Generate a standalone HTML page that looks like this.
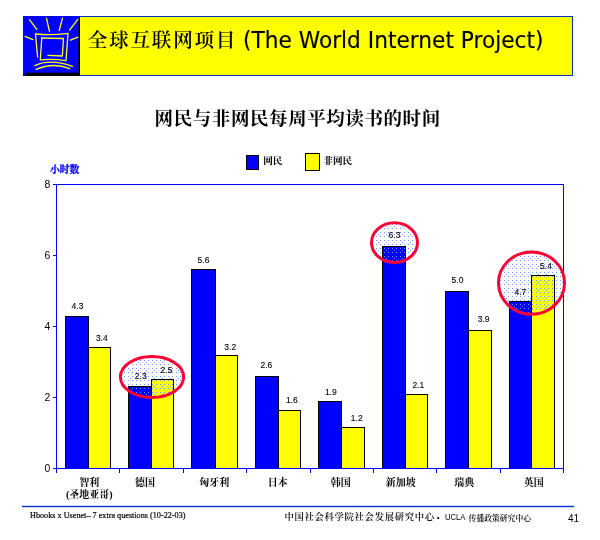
<!DOCTYPE html>
<html lang="zh-CN">
<head>
<meta charset="utf-8">
<title>全球互联网项目 (The World Internet Project)</title>
<style>
html,body{margin:0;padding:0;background:#fff;}
body{width:600px;height:540px;position:relative;overflow:hidden;}
</style>
</head>
<body>
<svg width="600" height="540" viewBox="0 0 600 540" style="position:absolute;left:0;top:0">
<defs><pattern id="dots" x="0" y="0" width="8" height="8" patternUnits="userSpaceOnUse" shape-rendering="crispEdges"><g fill="#6699ff"><rect x="0" y="0" width="1" height="1"/><rect x="4" y="0" width="1" height="1"/><rect x="0" y="4" width="1" height="1"/><rect x="4" y="4" width="1" height="1"/><rect x="2" y="2" width="1" height="1"/></g></pattern></defs>
<rect x="23.5" y="16.5" width="549" height="59" fill="#ffff00" stroke="#0033cc" stroke-width="1"/>
<rect x="23" y="16" width="57" height="60" fill="#0000ff"/>
<rect x="25" y="73" width="55" height="3" fill="#000"/>
<rect x="25" y="72.4" width="55" height="0.6" fill="#000" opacity="0.5"/>
<rect x="78.4" y="18" width="1.6" height="58" fill="#000"/>
<g fill="none" stroke="#ffff14" stroke-width="1.3" stroke-linecap="round" stroke-linejoin="round"><path d="M35.5 34 Q52 35.6 68 33.3 L66 60.6 Q52 58.6 40.3 59.8 L41.8 37.6"/><path d="M35.5 34 L37.6 57"/><path d="M41.8 38 L63.5 38.5 L62.3 56 L48 55.3"/><path d="M34.9 65.7 Q49.8 58.4 72.4 66.4"/><path d="M36.1 69.4 Q53 62 69.9 68.6"/><path d="M29.4 19.7 L36.8 29.4"/><path d="M46.5 18.4 L49.5 31.4"/><path d="M62.5 18.2 L59.2 30.5"/><path d="M77.9 19.3 L69.5 30.1"/><path d="M25.1 36.3 L32.9 39.6"/><path d="M77.9 37.2 L70.5 40.2"/></g>
<g stroke="#0000ff" stroke-width="1" fill="none" shape-rendering="crispEdges">
<path d="M56.5 468.5 L56.5 184.5 L563.5 184.5 L563.5 468.5 Z"/>
<path d="M52.5 468.5 L56.5 468.5"/>
<path d="M52.5 397.5 L56.5 397.5"/>
<path d="M52.5 326.5 L56.5 326.5"/>
<path d="M52.5 255.5 L56.5 255.5"/>
<path d="M52.5 184.5 L56.5 184.5"/>
<path d="M56.5 468.5 L56.5 472.5"/>
<path d="M119.5 468.5 L119.5 472.5"/>
<path d="M183.5 468.5 L183.5 472.5"/>
<path d="M246.5 468.5 L246.5 472.5"/>
<path d="M310.5 468.5 L310.5 472.5"/>
<path d="M373.5 468.5 L373.5 472.5"/>
<path d="M436.5 468.5 L436.5 472.5"/>
<path d="M500.5 468.5 L500.5 472.5"/>
<path d="M563.5 468.5 L563.5 472.5"/>
</g>
<rect x="65" y="316" width="24" height="152" fill="#0000ff"/>
<rect x="88" y="347" width="23" height="121" fill="#ffff00"/>
<rect x="128" y="386" width="24" height="82" fill="#0000ff"/>
<rect x="151" y="379" width="23" height="89" fill="#ffff00"/>
<rect x="191" y="269" width="25" height="199" fill="#0000ff"/>
<rect x="215" y="355" width="23" height="113" fill="#ffff00"/>
<rect x="255" y="376" width="24" height="92" fill="#0000ff"/>
<rect x="278" y="410" width="23" height="58" fill="#ffff00"/>
<rect x="318" y="401" width="24" height="67" fill="#0000ff"/>
<rect x="341" y="427" width="24" height="41" fill="#ffff00"/>
<rect x="382" y="246" width="24" height="222" fill="#0000ff"/>
<rect x="405" y="394" width="23" height="74" fill="#ffff00"/>
<rect x="445" y="291" width="24" height="177" fill="#0000ff"/>
<rect x="468" y="330" width="24" height="138" fill="#ffff00"/>
<rect x="509" y="301" width="23" height="167" fill="#0000ff"/>
<rect x="531" y="275" width="24" height="193" fill="#ffff00"/>
<ellipse cx="152" cy="377" rx="31.6" ry="20.5" fill="url(#dots)"/>
<ellipse cx="394.5" cy="242.6" rx="23" ry="19.9" fill="url(#dots)"/>
<ellipse cx="531.5" cy="283.05" rx="33" ry="31.15" fill="url(#dots)"/>
<g fill="#000" shape-rendering="crispEdges">
<rect x="65" y="316" width="1" height="152"/>
<rect x="88" y="316" width="1" height="152"/>
<rect x="110" y="347" width="1" height="121"/>
<rect x="65" y="316" width="24" height="1"/>
<rect x="88" y="347" width="23" height="1"/>
<rect x="128" y="386" width="1" height="82"/>
<rect x="151" y="379" width="1" height="89"/>
<rect x="173" y="379" width="1" height="89"/>
<rect x="128" y="386" width="24" height="1"/>
<rect x="151" y="379" width="23" height="1"/>
<rect x="191" y="269" width="1" height="199"/>
<rect x="215" y="269" width="1" height="199"/>
<rect x="237" y="355" width="1" height="113"/>
<rect x="191" y="269" width="25" height="1"/>
<rect x="215" y="355" width="23" height="1"/>
<rect x="255" y="376" width="1" height="92"/>
<rect x="278" y="376" width="1" height="92"/>
<rect x="300" y="410" width="1" height="58"/>
<rect x="255" y="376" width="24" height="1"/>
<rect x="278" y="410" width="23" height="1"/>
<rect x="318" y="401" width="1" height="67"/>
<rect x="341" y="401" width="1" height="67"/>
<rect x="364" y="427" width="1" height="41"/>
<rect x="318" y="401" width="24" height="1"/>
<rect x="341" y="427" width="24" height="1"/>
<rect x="382" y="246" width="1" height="222"/>
<rect x="405" y="246" width="1" height="222"/>
<rect x="427" y="394" width="1" height="74"/>
<rect x="382" y="246" width="24" height="1"/>
<rect x="405" y="394" width="23" height="1"/>
<rect x="445" y="291" width="1" height="177"/>
<rect x="468" y="291" width="1" height="177"/>
<rect x="491" y="330" width="1" height="138"/>
<rect x="445" y="291" width="24" height="1"/>
<rect x="468" y="330" width="24" height="1"/>
<rect x="509" y="301" width="1" height="167"/>
<rect x="531" y="275" width="1" height="193"/>
<rect x="554" y="275" width="1" height="193"/>
<rect x="509" y="301" width="23" height="1"/>
<rect x="531" y="275" width="24" height="1"/>
</g>
<ellipse cx="152" cy="377" rx="31.6" ry="20.5" fill="none" stroke="#ff0033" stroke-width="3"/>
<ellipse cx="394.5" cy="242.6" rx="23" ry="19.9" fill="none" stroke="#ff0033" stroke-width="3"/>
<ellipse cx="531.5" cy="283.05" rx="33" ry="31.15" fill="none" stroke="#ff0033" stroke-width="3"/>
<g stroke="#000" stroke-width="1" shape-rendering="crispEdges">
<rect x="246.5" y="155.5" width="12" height="14" fill="#0000ff"/>
<rect x="305.5" y="153.5" width="14" height="17" fill="#ffff00"/>
</g>
<rect x="22" y="505.8" width="552" height="1.4" fill="#0033cc"/>
<g font-family="'Liberation Sans','Noto Sans CJK SC',sans-serif" fill="#000">
<text x="50.4" y="472.1" font-size="10" text-anchor="end" textLength="5.8" lengthAdjust="spacingAndGlyphs">0</text>
<text x="50.4" y="401.1" font-size="10" text-anchor="end" textLength="5.8" lengthAdjust="spacingAndGlyphs">2</text>
<text x="50.4" y="330.1" font-size="10" text-anchor="end" textLength="5.8" lengthAdjust="spacingAndGlyphs">4</text>
<text x="50.4" y="259.1" font-size="10" text-anchor="end" textLength="5.8" lengthAdjust="spacingAndGlyphs">6</text>
<text x="50.4" y="188.1" font-size="10" text-anchor="end" textLength="5.8" lengthAdjust="spacingAndGlyphs">8</text>
<text x="77.5" y="308.9" font-size="9.7" text-anchor="middle" textLength="11.8" lengthAdjust="spacingAndGlyphs" stroke="#000" stroke-width="0.12">4.3</text>
<text x="101.8" y="340.5" font-size="9.7" text-anchor="middle" textLength="11.8" lengthAdjust="spacingAndGlyphs" stroke="#000" stroke-width="0.12">3.4</text>
<text x="140.7" y="379.4" font-size="9.7" text-anchor="middle" textLength="11.8" lengthAdjust="spacingAndGlyphs" stroke="#000" stroke-width="0.12">2.3</text>
<text x="166.5" y="373.3" font-size="9.7" text-anchor="middle" textLength="11.8" lengthAdjust="spacingAndGlyphs" stroke="#000" stroke-width="0.12">2.5</text>
<text x="203.5" y="262.7" font-size="9.7" text-anchor="middle" textLength="11.8" lengthAdjust="spacingAndGlyphs" stroke="#000" stroke-width="0.12">5.6</text>
<text x="230.2" y="349.7" font-size="9.7" text-anchor="middle" textLength="11.8" lengthAdjust="spacingAndGlyphs" stroke="#000" stroke-width="0.12">3.2</text>
<text x="266.4" y="368.4" font-size="9.7" text-anchor="middle" textLength="11.8" lengthAdjust="spacingAndGlyphs" stroke="#000" stroke-width="0.12">2.6</text>
<text x="291.8" y="403.4" font-size="9.7" text-anchor="middle" textLength="11.8" lengthAdjust="spacingAndGlyphs" stroke="#000" stroke-width="0.12">1.6</text>
<text x="330.8" y="394.5" font-size="9.7" text-anchor="middle" textLength="11.8" lengthAdjust="spacingAndGlyphs" stroke="#000" stroke-width="0.12">1.9</text>
<text x="356.7" y="421.3" font-size="9.7" text-anchor="middle" textLength="11.8" lengthAdjust="spacingAndGlyphs" stroke="#000" stroke-width="0.12">1.2</text>
<text x="394.5" y="238.4" font-size="9.7" text-anchor="middle" textLength="11.8" lengthAdjust="spacingAndGlyphs" stroke="#000" stroke-width="0.12">6.3</text>
<text x="418.3" y="387.7" font-size="9.7" text-anchor="middle" textLength="11.8" lengthAdjust="spacingAndGlyphs" stroke="#000" stroke-width="0.12">2.1</text>
<text x="457.5" y="283.4" font-size="9.7" text-anchor="middle" textLength="11.8" lengthAdjust="spacingAndGlyphs" stroke="#000" stroke-width="0.12">5.0</text>
<text x="483.6" y="322.4" font-size="9.7" text-anchor="middle" textLength="11.8" lengthAdjust="spacingAndGlyphs" stroke="#000" stroke-width="0.12">3.9</text>
<text x="520.4" y="294.7" font-size="9.7" text-anchor="middle" textLength="11.8" lengthAdjust="spacingAndGlyphs" stroke="#000" stroke-width="0.12">4.7</text>
<text x="546" y="269.3" font-size="9.7" text-anchor="middle" textLength="11.8" lengthAdjust="spacingAndGlyphs" stroke="#000" stroke-width="0.12">5.4</text>
</g>
<g font-family="'Liberation Serif','Noto Serif CJK SC',serif" fill="#000">
<text x="89.2" y="486.3" font-size="10" font-weight="bold" text-anchor="middle">智利</text>
<text x="145" y="486.3" font-size="10" font-weight="bold" text-anchor="middle">德国</text>
<text x="214.3" y="486.3" font-size="10" font-weight="bold" text-anchor="middle">匈牙利</text>
<text x="277.8" y="486.3" font-size="10" font-weight="bold" text-anchor="middle">日本</text>
<text x="340.8" y="486.3" font-size="10" font-weight="bold" text-anchor="middle">韩国</text>
<text x="400.8" y="486.3" font-size="10" font-weight="bold" text-anchor="middle">新加坡</text>
<text x="464.2" y="486.3" font-size="10" font-weight="bold" text-anchor="middle">瑞典</text>
<text x="533.7" y="486.3" font-size="10" font-weight="bold" text-anchor="middle">英国</text>
<text x="89.3" y="498" font-size="10" font-weight="bold" text-anchor="middle">(圣地亚哥)</text>
<text x="64.6" y="172.6" font-size="9.8" font-weight="bold" fill="#0000ff" stroke="#0000ff" stroke-width="0.3" text-anchor="middle">小时数</text>
<text x="263.2" y="164.2" font-size="9.6" font-weight="bold">网民</text>
<text x="323.3" y="164.2" font-size="9.6" font-weight="bold">非网民</text>
<text x="154.6" y="125" font-size="18.5" font-weight="bold" textLength="285.6">网民与非网民每周平均读书的时间</text>
<text x="87.8" y="47.2" font-size="19.6" font-weight="600" textLength="147.6">全球互联网项目</text>
<text x="30" y="517.8" font-size="8.2" textLength="155.5" stroke="#000" stroke-width="0.2">Hbooks x Usenet– 7 extra questions (10-22-03)</text>
<text x="284.5" y="520.4" font-size="9.4" font-weight="600" textLength="149.6">中国社会科学院社会发展研究中心</text>
<text x="436.8" y="520.2" font-size="8" font-family="'Liberation Sans',sans-serif">•</text>
<text x="445" y="520.3" font-size="8.2" font-family="'Liberation Sans',sans-serif" textLength="20.5" lengthAdjust="spacingAndGlyphs">UCLA</text>
<text x="468.6" y="520.6" font-size="8" font-weight="600" textLength="62.4" lengthAdjust="spacingAndGlyphs">传播政策研究中心</text>
</g>
<text x="243" y="48" font-size="22.6" font-family="'DejaVu Sans','Liberation Sans',sans-serif" textLength="300.5" lengthAdjust="spacingAndGlyphs" stroke="#000" stroke-width="0.15">(The World Internet Project)</text>
<text x="568" y="521.5" font-size="10" font-family="'Liberation Sans',sans-serif">41</text>
</svg>
</body>
</html>
